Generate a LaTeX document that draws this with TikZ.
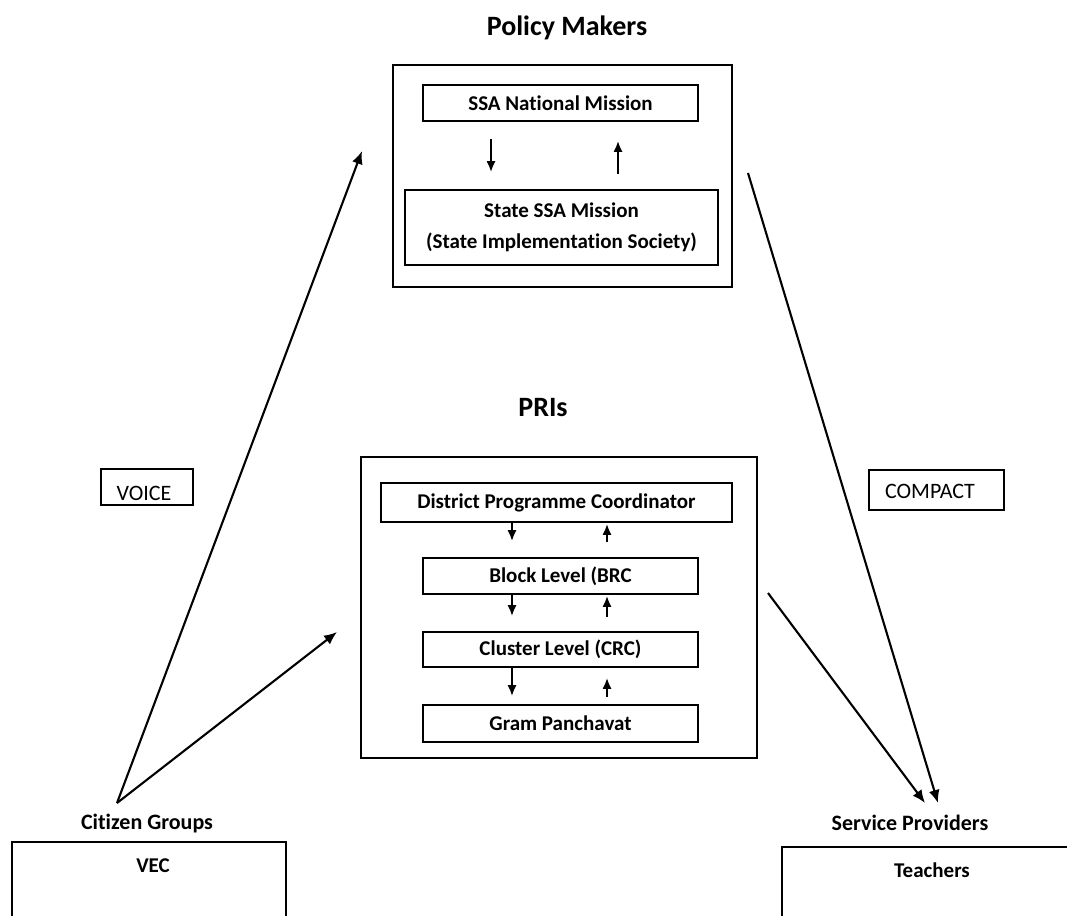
\documentclass[tikz,border=0pt]{standalone}
\usepackage{fontspec}
\setmainfont{Carlito}[Ligatures={NoCommon}]
\usetikzlibrary{arrows.meta}
\begin{document}
\begin{tikzpicture}[x=1pt,y=-1pt,
  boxtxt/.style={font=\bfseries\fontsize{21}{31}\selectfont},
  frame/.style={draw, line width=1.6pt, inner sep=0pt},
  inbox/.style={frame, boxtxt, align=center},
  title/.style={font=\bfseries\fontsize{28}{32}\selectfont, inner sep=0pt},
  subtitle/.style={font=\bfseries\fontsize{22}{26}\selectfont, inner sep=0pt},
  plaintxt/.style={inner sep=0pt, font=\fontsize{22}{26}\selectfont},
  small/.style={line width=2pt, -{Latex[length=11pt,width=9pt]}},
  diag/.style={line width=2.1pt, -{Latex[length=13pt,width=11pt]}}
]
\useasboundingbox (0,0) rectangle (1067,915);
\clip (0,0) rectangle (1067,915);
\fill[white] (0,0) rectangle (1067,915);

% Policy makers
\node[title] (pmt) at (567,28) {Policy Makers};
\node[frame, minimum width=339pt, minimum height=222pt] (pm) at (562.5,176) {};
\node[inbox, minimum width=275pt, minimum height=36pt] (nat) at (560.5,103) {SSA National Mission};
\node[inbox, minimum width=313pt, minimum height=75pt] (state) at (561.5,227.5) {State SSA Mission\\(State Implementation Society)};
\draw[small] ([xshift=-69.5pt,yshift=-17pt]nat.south) -- ([xshift=-70.5pt,yshift=17pt]state.north);
\draw[small] ([xshift=56.5pt,yshift=15pt]state.north) -- ([xshift=57.5pt,yshift=-19pt]nat.south);

% PRIs
\node[title] (prit) at (543,408) {PRIs};
\node[frame, minimum width=396pt, minimum height=301pt] (pri) at (559,607.5) {};
\node[inbox, minimum width=351pt, minimum height=39pt] (dist) at (556.5,502.5) {District Programme Coordinator};
\node[inbox, minimum width=275pt, minimum height=36pt] (block) at (560.5,576) {Block Level (BRC};
\node[inbox, minimum width=275pt, minimum height=35pt] (clus) at (560.5,649.5) {Cluster Level (CRC)};
\node[inbox, minimum width=275pt, minimum height=37pt] (gram) at (560.5,723.5) {Gram Panchavat};

\draw[small] ([xshift=-44.5pt]dist.south) -- ([xshift=-48.5pt,yshift=16pt]block.north);
\draw[small] ([xshift=46.5pt,yshift=15pt]block.north) -- ([xshift=50.5pt,yshift=-1pt]dist.south);
\draw[small] ([xshift=-48.5pt]block.south) -- ([xshift=-48.5pt,yshift=15pt]clus.north);
\draw[small] ([xshift=46.5pt,yshift=14pt]clus.north) -- ([xshift=46.5pt,yshift=-1pt]block.south);
\draw[small] ([xshift=-48.5pt]clus.south) -- ([xshift=-48.5pt,yshift=8pt]gram.north);
\draw[small] ([xshift=46.5pt,yshift=7pt]gram.north) -- ([xshift=46.5pt,yshift=-10pt]clus.south);

% Voice / Compact
\node[frame, minimum width=92pt, minimum height=36pt] (voice) at (147,487) {};
\node[plaintxt] (voicet) at (144,493) {VOICE};
\node[frame, minimum width=135pt, minimum height=40pt] (compact) at (936.5,490) {};
\node[plaintxt] (compactt) at (930,491) {COMPACT};

% Citizen groups
\node[subtitle] (cit) at (147,823) {Citizen Groups};
\coordinate (apex) at (117,803);
\draw[frame] (12,842) rectangle (286,940);
\node[boxtxt] (vec) at (153,866) {VEC};

% Service providers
\node[subtitle] (sp) at (910,823) {Service Providers};
\coordinate (tipA) at (925,803);
\coordinate (tipB) at (938,803);
\draw[frame] (782,847) rectangle (1090,940);
\node[boxtxt] (teach) at (932,870) {Teachers};

% diagonals
\coordinate (voiceEnd) at (362,151);
\coordinate (priIn) at (337,632);
\coordinate (compStart) at (748,173);
\coordinate (priOut) at (768,593);
\draw[diag] (apex) -- (voiceEnd);
\draw[diag] (apex) -- (priIn);
\draw[diag] (compStart) -- (tipB);
\draw[diag] (priOut) -- (tipA);
\end{tikzpicture}
\end{document}
